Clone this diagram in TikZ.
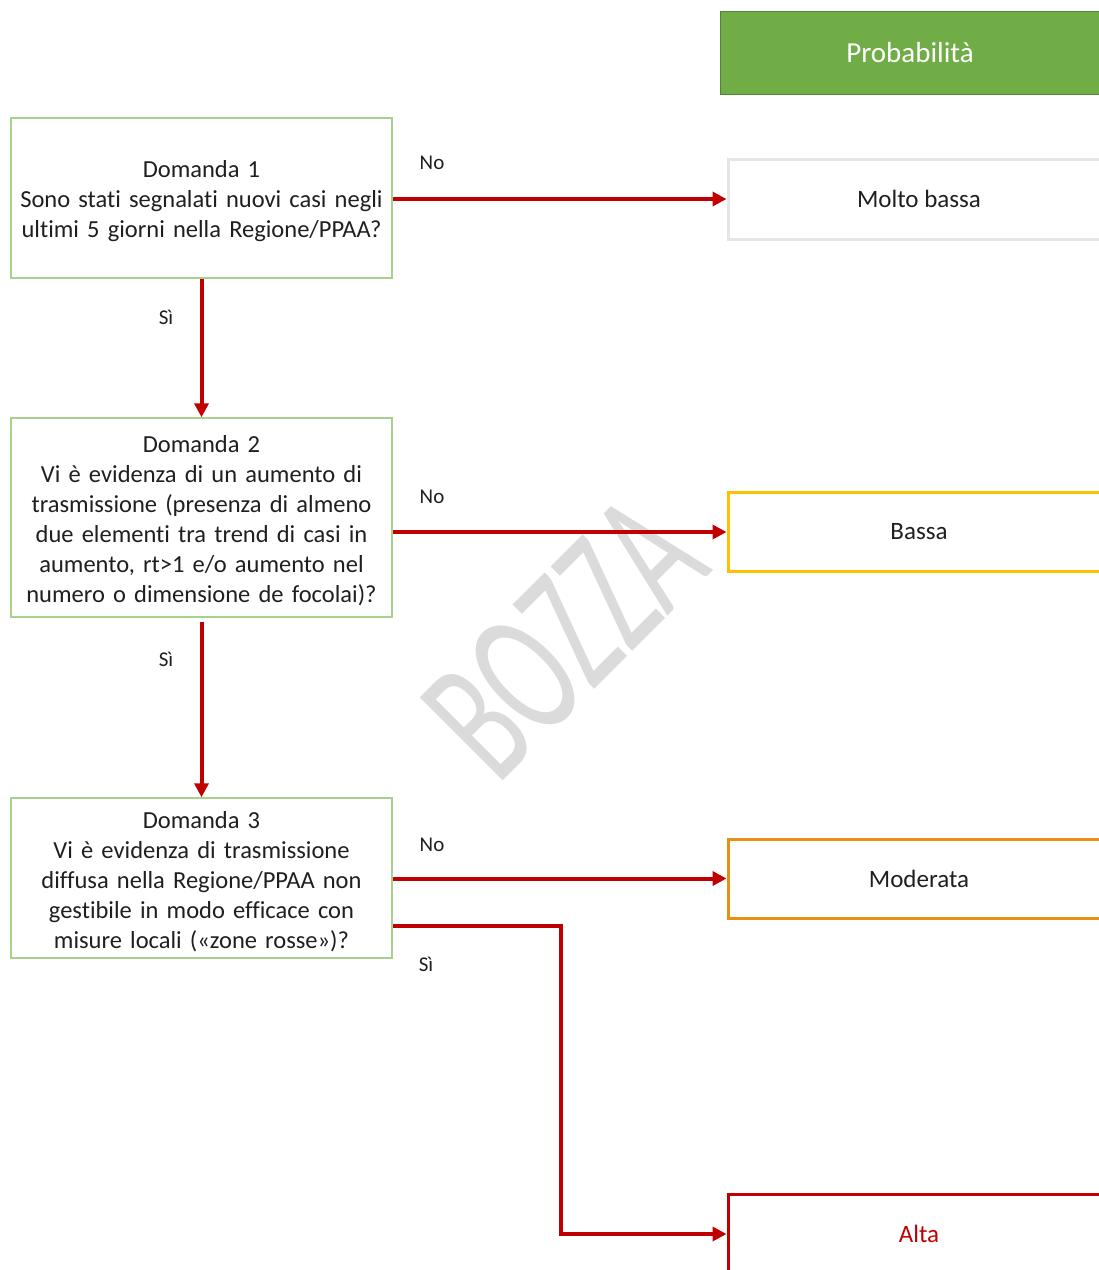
\documentclass[tikz,border=0pt]{standalone}
\usepackage{fontspec}
\setmainfont[Ligatures=NoCommon]{Carlito}
\usetikzlibrary{arrows.meta}
\definecolor{qgreen}{HTML}{A9D18E}
\definecolor{hfill}{HTML}{70AD47}
\definecolor{hdraw}{HTML}{548235}
\definecolor{arrred}{HTML}{C00000}
\definecolor{cvlow}{HTML}{E6E6E6}
\definecolor{clow}{HTML}{FFC000}
\definecolor{cmod}{HTML}{E8900F}
\definecolor{chigh}{HTML}{C00000}
\definecolor{wmark}{HTML}{DBDBDB}
\newcommand{\topstrut}{\rule{0pt}{24pt}}
\tikzset{
  qbox/.style={draw=qgreen, line width=1.5pt, minimum width=381pt, inner sep=0pt, align=center, text width=375pt, font=\fontsize{24.5}{30}\selectfont, text=black!88},
  rbox/.style={line width=3pt, minimum width=382pt, minimum height=79pt, inner sep=0pt, align=center, font=\fontsize{25}{30}\selectfont, text=black!88},
  flow/.style={draw=arrred, line width=4pt, -{Triangle[length=14pt,width=14pt]}},
  lbl/.style={font=\fontsize{21}{25}\selectfont, text=black!88, inner sep=0pt}
}
\begin{document}
\begin{tikzpicture}[x=1pt,y=-1pt]
\useasboundingbox (0,0) rectangle (1099,1270);
\clip (0,0) rectangle (1099,1270);
% watermark
\node[rotate=45, text=wmark, inner sep=0pt] (wm) at (564,637) {\scalebox{0.62}[1]{\fontsize{183}{183}\selectfont BOZZA}};
% header
\node[draw=hdraw, fill=hfill, line width=1pt, minimum width=380pt, minimum height=83pt, inner sep=0pt, text=white, font=\fontsize{29}{34}\selectfont] (hdr) at (910,53) {Probabilità};
% questions
\node[qbox, minimum height=160pt] (q1) at (201.5,198) {\topstrut Domanda 1\\Sono stati segnalati nuovi casi negli\\ultimi 5 giorni nella Regione/PPAA?};
\node[qbox, minimum height=199pt] (q2) at (201.5,517.5) {\topstrut Domanda 2\\Vi è evidenza di un aumento di\\trasmissione (presenza di almeno\\due elementi tra trend di casi in\\aumento, rt>1 e/o aumento nel\\numero o dimensione de focolai)?};
\node[qbox, minimum height=160pt] (q3) at (201.5,878) {\topstrut Domanda 3\\Vi è evidenza di trasmissione\\diffusa nella Regione/PPAA non\\gestibile in modo efficace con\\misure locali («zone rosse»)?};
% results
\node[rbox, draw=cvlow, minimum height=80pt] (r1) at (919,199) {Molto bassa};
\node[rbox, draw=clow] (r2) at (919,532) {Bassa};
\node[rbox, draw=cmod] (r3) at (919,878.5) {Moderata};
\node[rbox, draw=chigh, minimum height=80pt, text=chigh] (r4) at (919,1234) {Alta};
% connectors
\draw[flow] (q1.east |- r1.west) -- (r1.west);
\draw[flow] (q2.east |- r2.west) -- (r2.west);
\draw[flow] (q3.east |- r3.west) -- (r3.west);
\draw[flow] (q1.south) -- (q2.north);
\draw[flow, shorten <=4pt] (q2.south) -- (q3.north);
\draw[flow] ([yshift=-48pt]q3.east) -- ++(168,0) |- (r4.west);
% labels
\node[lbl] (no1) at (432,163) {No};
\node[lbl] (no2) at (432,497) {No};
\node[lbl] (no3) at (432,845) {No};
\node[lbl] (si1) at (166,317) {Sì};
\node[lbl] (si2) at (166,659) {Sì};
\node[lbl] (si3) at (426,964) {Sì};
\end{tikzpicture}
\end{document}
